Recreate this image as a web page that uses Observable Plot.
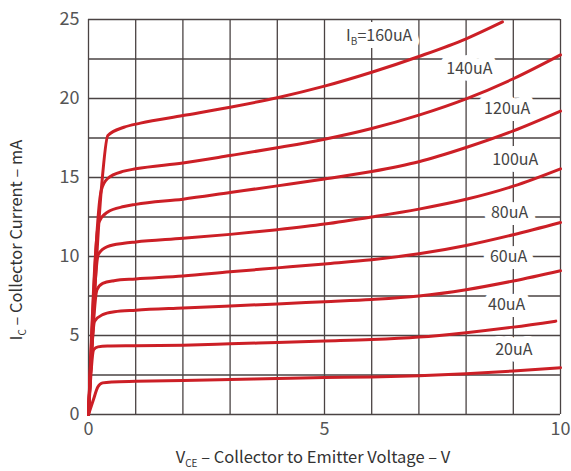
<!DOCTYPE html>
<html>
<head>
<meta charset="utf-8">
<script src="https://cdn.jsdelivr.net/npm/d3@7"></script>
<script src="https://cdn.jsdelivr.net/npm/@observablehq/plot@0.6"></script>
<style>
  html, body { margin: 0; padding: 0; background: #fff; }
  #chart { width: 571px; height: 471px; }
</style>
</head>
<body>
<div id="chart"></div>
<script>
// ---- Data (V_CE in volts, I_C in mA) ----
const ib20  = [[0,0],[0.1,0.9],[0.2,1.75],[0.3,2.0],[0.5,2.06],[1,2.1],[2,2.15],[3,2.21],[4,2.28],[5,2.34],[6,2.38],[7,2.46],[8,2.58],[9,2.75],[10,2.96]];
const ib40  = [[0,0],[0.11,4.1],[0.2,4.28],[0.4,4.33],[1,4.35],[2,4.39],[3,4.47],[4,4.56],[5,4.65],[6,4.74],[7,4.9],[8,5.18],[9,5.53],[9.9,5.91]];
const ib60  = [[0,0],[0.13,5.9],[0.3,6.32],[0.55,6.5],[1,6.6],[2,6.74],[3,6.87],[4,7.0],[5,7.14],[6,7.28],[7,7.5],[8,7.9],[9,8.45],[10,9.1]];
const ib80  = [[0,0],[0.18,7.9],[0.3,8.3],[0.54,8.47],[1,8.58],[2,8.76],[3,9.03],[4,9.28],[5,9.53],[6,9.79],[7,10.17],[8,10.7],[9,11.38],[10,12.15]];
const ib100 = [[0,0],[0.21,10.15],[0.4,10.63],[0.75,10.84],[1,10.92],[2,11.15],[3,11.4],[4,11.7],[5,12.05],[6,12.5],[7,13.0],[8,13.62],[9,14.45],[10,15.55]];
const ib120 = [[0,0],[0.22,12.17],[0.4,12.8],[0.75,13.16],[1,13.3],[2,13.63],[3,14.05],[4,14.47],[5,14.9],[6,15.38],[7,16.0],[8,16.9],[9,17.95],[10,19.2]];
const ib140 = [[0,0],[0.27,14.18],[0.4,14.92],[0.75,15.4],[1,15.55],[2,15.92],[3,16.39],[4,16.88],[5,17.42],[6,18.1],[7,18.95],[8,19.98],[9,21.25],[10,22.76]];
const ib160 = [[0,0],[0.27,14.18],[0.41,17.66],[0.75,18.18],[1.1,18.44],[2,18.92],[3,19.45],[4,20.05],[5,20.78],[6,21.66],[7,22.66],[8,23.78],[8.77,24.85]];

const seriesNames  = ["20uA","40uA","60uA","80uA","100uA","120uA","140uA","160uA"];
const seriesPoints = [ib20, ib40, ib60, ib80, ib100, ib120, ib140, ib160];

// Curve labels (text and anchor in data units)
const labelText = ["20uA","40uA","60uA","80uA","100uA","120uA","140uA"];
const labelV    = [9.01, 8.86, 8.90, 8.92, 9.04, 8.87, 8.07];
const labelI    = [4.11, 6.96, 10.0, 12.75, 16.14, 19.35, 21.88];
const topLabelV = 6.17, topLabelI = 23.92; // "I_B=160uA"

const xTicks = [0, 5, 10];
const yTicks = [0, 5, 10, 15, 20, 25];
const xGrid = d3.range(0, 11, 1);
const yGrid = d3.range(0, 25.01, 2.5);

// ---- Build tables ----
const rows = seriesPoints.flatMap((pts, i) => pts.map(([v, c]) => ({series: seriesNames[i], V: v, I: c})));
const labels = labelText.map((t, i) => ({text: t, V: labelV[i], I: labelI[i]}));

const FONT = "'Noto Sans CJK SC', 'Noto Sans', sans-serif";
const RED = "#cc1f26";
const GRID = "#4a4343";

const plot = Plot.plot({
  width: 571,
  height: 471,
  marginLeft: 88,
  marginRight: 11,
  marginTop: 19,
  marginBottom: 57,
  style: {fontFamily: FONT, fontSize: "18px", color: "#555", background: "#fff"},
  x: {domain: [0, 10]},
  y: {domain: [0, 25]},
  marks: [
    Plot.gridX(xGrid, {stroke: GRID, strokeOpacity: 1, strokeWidth: 1.3}),
    Plot.gridY(yGrid, {stroke: GRID, strokeOpacity: 1, strokeWidth: 1.3}),
    Plot.axisX(xTicks, {tickSize: 0, tickPadding: 8, fontSize: 18, label: null, fill: "#555"}),
    Plot.axisY(yTicks, {tickSize: 0, tickPadding: 9, fontSize: 18, label: null, fill: "#555"}),
    Plot.text(labels, {x: "V", y: "I", text: "text", fill: "#444", stroke: "white", strokeWidth: 14, paintOrder: "stroke", fontSize: 16, fontFamily: FONT}),
    Plot.line(rows, {x: "V", y: "I", z: "series", stroke: RED, strokeWidth: 3, curve: "monotone-x", strokeLinecap: "round", strokeLinejoin: "round"})
  ]
});

document.getElementById("chart").appendChild(plot);

const svg = d3.select(plot);
const xs = plot.scale("x"), ys = plot.scale("y");

// I_B=160uA label with subscript: halo copy first, then the visible text
function topLabel(halo) {
  const t = svg.append("text")
    .attr("x", xs.apply(topLabelV))
    .attr("y", ys.apply(topLabelI) + 5)
    .attr("text-anchor", "middle")
    .attr("font-family", FONT)
    .attr("font-size", 16)
    .attr("fill", halo ? "white" : "#444");
  if (halo) t.attr("stroke", "white").attr("stroke-width", 14).attr("stroke-linejoin", "round");
  t.append("tspan").text("I");
  t.append("tspan").attr("font-size", 10).attr("dy", 4).text("B");
  t.append("tspan").attr("dy", -4).text("=160uA");
}
topLabel(true);
topLabel(false);

// X axis label
const xl = svg.append("text")
  .attr("x", 313).attr("y", 463)
  .attr("text-anchor", "middle")
  .attr("font-family", FONT).attr("font-size", 16.5).attr("fill", "#333");
xl.append("tspan").text("V");
xl.append("tspan").attr("font-size", 10).attr("dy", 4).text("CE");
xl.append("tspan").attr("dy", -4).text(" – Collector to Emitter Voltage – V");

// Y axis label
const yl = svg.append("text")
  .attr("transform", "translate(22,240) rotate(-90)")
  .attr("text-anchor", "middle")
  .attr("font-family", FONT).attr("font-size", 16.5).attr("fill", "#333");
yl.append("tspan").text("I");
yl.append("tspan").attr("font-size", 10).attr("dy", 4).text("C");
yl.append("tspan").attr("dy", -4).text(" – Collector Current – mA");
</script>
</body>
</html>
